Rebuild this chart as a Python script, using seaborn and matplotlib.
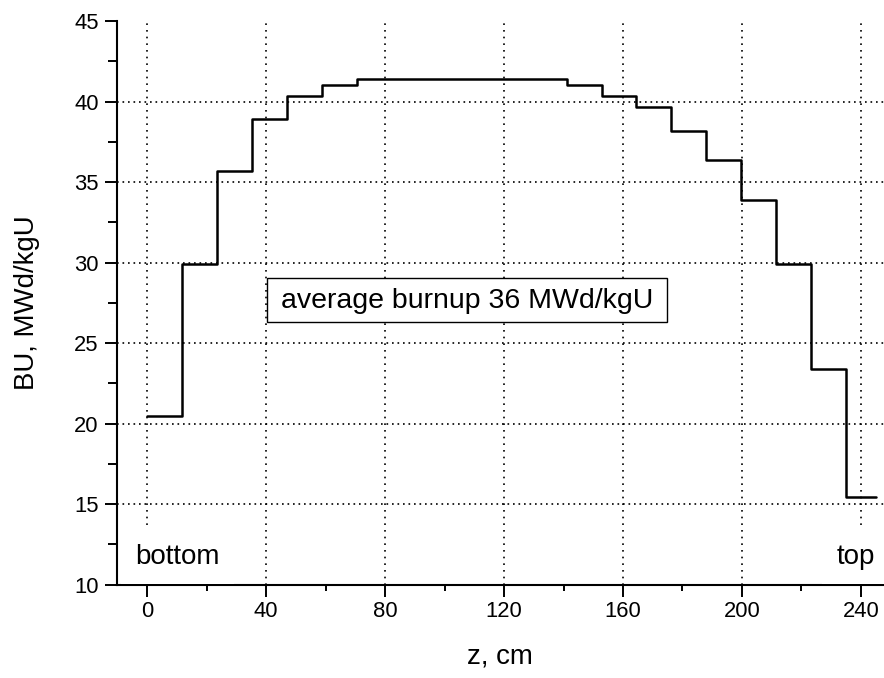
import matplotlib
matplotlib.use("Agg")
import matplotlib.pyplot as plt
from matplotlib.ticker import MultipleLocator
from matplotlib.patches import Rectangle
import seaborn as sns
import pandas as pd

# ---- data ----
z_edges = [0, 11.7, 23.5, 35.3, 47.0, 58.8, 70.5, 82.3, 94.0, 105.8, 117.5,
           129.3, 141.0, 152.8, 164.5, 176.3, 188.0, 199.8, 211.5, 223.3,
           235.0, 245.2]
burnup = [20.5, 29.9, 35.7, 38.95, 40.35, 41.05, 41.4, 41.4, 41.4, 41.4,
          41.4, 41.4, 41.05, 40.35, 39.65, 38.2, 36.4, 33.9, 29.9, 23.4, 15.45]
x_ticks = [0, 40, 80, 120, 160, 200, 240]
y_ticks = [10, 15, 20, 25, 30, 35, 40, 45]
annotation = "average burnup 36 MWd/kgU"

sns.set_theme(style="ticks")
plt.rcParams["font.family"] = ["Liberation Sans", "DejaVu Sans"]

df = pd.DataFrame({"z": z_edges, "BU": burnup + [burnup[-1]]})

fig = plt.figure(figsize=(8.84, 6.78), dpi=100)
ax = fig.add_axes([0.1327, 0.1376, 0.8673, 0.8311])

sns.lineplot(data=df, x="z", y="BU", drawstyle="steps-post", color="black",
             linewidth=1.8, estimator=None, ax=ax, zorder=5)

ax.set_xlim(-10.1, 247.8)
ax.set_ylim(10, 45)
ax.set_xticks(x_ticks)
ax.set_yticks(y_ticks)
ax.xaxis.set_minor_locator(MultipleLocator(20))
ax.yaxis.set_minor_locator(MultipleLocator(2.5))

for s in ["top", "right"]:
    ax.spines[s].set_visible(False)
for s in ["left", "bottom"]:
    ax.spines[s].set_linewidth(1.5)
    ax.spines[s].set_color("black")

ax.tick_params(axis="both", which="major", labelsize=15.8, width=1.4,
               color="black", labelcolor="black", direction="out")
ax.tick_params(axis="x", which="major", length=8.3, pad=3.5)
ax.tick_params(axis="y", which="major", length=8.3, pad=5)
ax.tick_params(axis="x", which="minor", length=4.3, width=1.4, color="black")
ax.tick_params(axis="y", which="minor", length=6.5, width=1.4, color="black")

ax.xaxis.grid(True, color="black", linestyle=(0, (1, 3.0)), linewidth=1.2)
ax.yaxis.grid(True, color="black", linestyle=(0, (1, 2.3)), linewidth=1.2)
for t in ax.yaxis.get_major_ticks():
    if abs(t.get_loc() - 45) < 1e-9 or abs(t.get_loc() - 10) < 1e-9:
        t.gridline.set_visible(False)

ax.set_xlabel("z, cm", fontsize=19.9, color="black")
ax.set_ylabel("BU, MWd/kgU", fontsize=19.9, color="black")
ax.xaxis.set_label_coords(0.4997, -0.1035)
ax.yaxis.set_label_coords(-0.1008, 0.5)

# annotation box
ax.add_patch(Rectangle((40.4, 26.30), 134.5, 2.73, facecolor="white",
                       edgecolor="black", linewidth=1.0, zorder=3))
ax.text(44.9, 27.17, annotation, fontsize=20.5, ha="left", va="baseline",
        zorder=4, color="black")

ax.text(-4.1, 11.27, "bottom", fontsize=20, ha="left", va="baseline",
        color="black", zorder=4,
        bbox=dict(facecolor="white", edgecolor="none", pad=10))
ax.text(231.7, 11.27, "top", fontsize=20, ha="left", va="baseline",
        color="black", zorder=4,
        bbox=dict(facecolor="white", edgecolor="none", pad=10))

fig.savefig("out.png", dpi=100)
